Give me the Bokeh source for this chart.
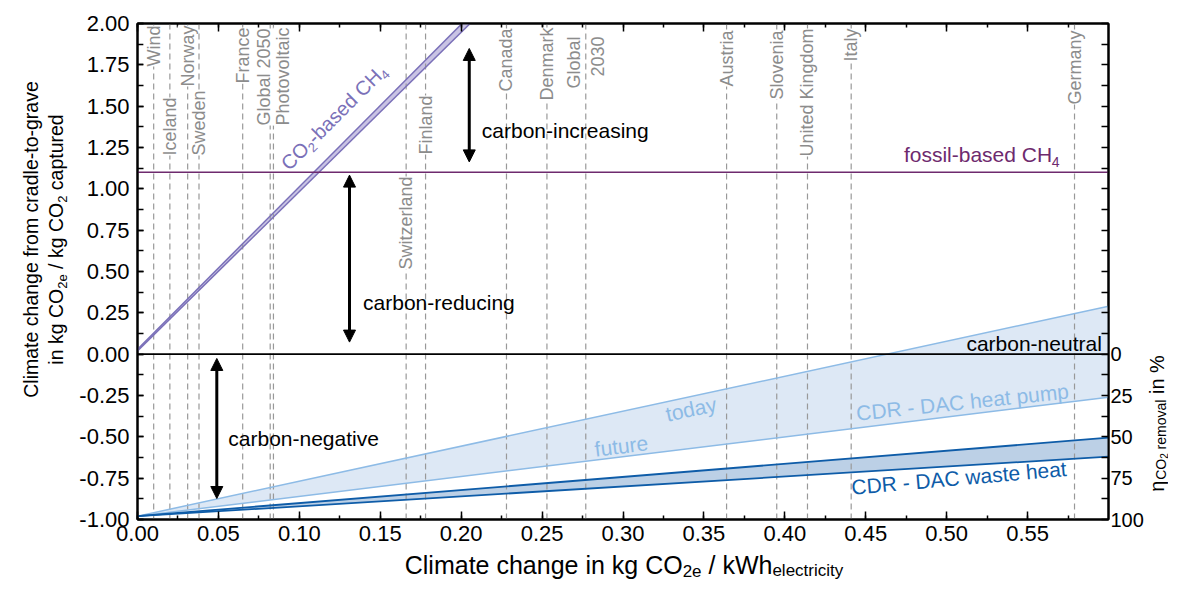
import math
from bokeh.plotting import figure
from bokeh.layouts import row, column
from bokeh.models import (Range1d, LinearAxis, SingleIntervalTicker, FixedTicker,
                          NumeralTickFormatter, CustomJSTickFormatter, Label, Arrow, NormalHead)
from bokeh.embed import file_html
from bokeh.resources import INLINE

# ---------------- data ----------------
x_ends = [0.0, 0.6]
hp_today = [-0.98, 0.29]      # CDR - DAC heat pump, today
hp_future = [-0.98, -0.26]    # CDR - DAC heat pump, future
wh_upper = [-0.98, -0.505]    # CDR - DAC waste heat
wh_lower = [-0.98, -0.62]
co2_x = [0.0, 0.21]
co2_upper = [0.03, 2.093]     # CO2-based CH4
co2_lower = [0.02, 2.043]
fossil_ch4 = 1.10             # fossil-based CH4
zero_line = 0.0

grid_names = ["Wind", "Iceland", "Norway", "Sweden", "France", "Global 2050", "Photovoltaic",
              "Switzerland", "Finland", "Canada", "Denmark", "Global 2030", "Austria",
              "Slovenia", "United Kingdom", "Italy", "Germany"]
grid_x = [0.010, 0.020, 0.031, 0.038, 0.065, 0.082, 0.084, 0.166, 0.178, 0.228, 0.253,
          0.277, 0.364, 0.395, 0.414, 0.441, 0.579]

arrow_x = [0.205, 0.131, 0.049]
arrow_y0 = [1.163, 0.073, -0.873]
arrow_y1 = [1.849, 1.083, -0.026]

x_ticks_interval = 0.05
y_ticks_interval = 0.25
eta_ticks = [0, 25, 50, 75, 100]

# ---------------- geometry / style ----------------
FONT = "Liberation Sans"
LW, PW, RW = 70, 1076, 22          # left title strip, plot, right title strip
PH, BH = 552, 29                   # plot height, bottom title strip
FL, FT, FR, FB = 137, 23, 1110, 519  # frame edges in picture px
BASE_FIX = 0.3465                  # alphabetic baseline is drawn as centre

def X(px):
    return (px - FL) / (FR - FL) * 0.6

def Y(py):
    return 2 - (py - FT) / (FB - FT) * 3.0

def ident(v):
    return v

CW = {' ': 278, '%': 889, '-': 333, '.': 278, '/': 278, 'A': 667, 'C': 722, 'D': 722,
      'H': 722, 'O': 778, 'R': 722, 'W': 944, 'a': 556, 'b': 556, 'c': 500, 'd': 556,
      'e': 556, 'f': 278, 'g': 556, 'h': 556, 'i': 222, 'k': 500, 'l': 222, 'm': 833,
      'n': 556, 'o': 556, 'p': 556, 'r': 333, 's': 500, 't': 278, 'u': 556, 'v': 500,
      'w': 722, 'y': 500, 'η': 600}

def tw(s, size):
    return sum(CW.get(ch, 556) for ch in s) / 1000.0 * size

def seq(fig, pieces, start, angle_deg, color, fx, fy, center=False):
    a = math.radians(angle_deg)
    d = (math.cos(a), -math.sin(a))
    dn = (math.sin(a), math.cos(a))
    total = sum(tw(t, s) for t, s, _ in pieces)
    sx, sy = start
    if center:
        sx -= d[0] * total / 2
        sy -= d[1] * total / 2
    pos = 0.0
    for t, s, sh in pieces:
        lead = len(t) - len(t.lstrip(" "))
        pos += tw(" " * lead, s)
        t = t.lstrip(" ")
        off = sh - BASE_FIX * s
        px = sx + d[0] * pos + dn[0] * off
        py = sy + d[1] * pos + dn[1] * off
        fig.add_layout(Label(x=fx(px), y=fy(py), text=t, angle=a, text_align="left",
                             text_baseline="alphabetic", text_font=FONT,
                             text_font_size=f"{s}px", text_color=color))
        pos += tw(t, s)

def strip(w, h, yr, top=0, bottom=0):
    f = figure(width=w, height=h, x_range=Range1d(0, w), y_range=yr,
               x_axis_type=None, y_axis_type=None, min_border=0,
               min_border_top=top, min_border_bottom=bottom,
               output_backend="svg", toolbar_location=None)
    f.outline_line_color = None
    f.xgrid.visible = False
    f.ygrid.visible = False
    f.background_fill_color = "white"
    f.border_fill_color = "white"
    return f

# ---------------- main plot ----------------
p = figure(width=PW, height=PH, x_range=Range1d(0, 0.6), y_range=Range1d(-1, 2),
           output_backend="svg", toolbar_location=None,
           min_border_left=FL - LW, min_border_right=LW + PW - FR,
           min_border_top=FT, min_border_bottom=PH - FB)
p.xgrid.visible = False
p.ygrid.visible = False
p.outline_line_color = "black"
p.outline_line_width = 2
p.background_fill_color = "white"
p.border_fill_color = "white"

def style_axis(ax, tin, minor_in, fs="22px", standoff=8):
    ax.axis_line_color = "black"
    ax.axis_line_width = 2
    ax.major_tick_in = tin
    ax.major_tick_out = 0
    ax.minor_tick_in = minor_in
    ax.minor_tick_out = 0
    ax.major_tick_line_width = 1.5
    ax.minor_tick_line_width = 1.5
    ax.major_label_text_font = FONT
    ax.major_label_text_font_size = fs
    ax.major_label_text_color = "black"
    ax.major_label_standoff = standoff

xa = p.xaxis[0]
xa.ticker = SingleIntervalTicker(interval=x_ticks_interval, num_minor_ticks=2)
xa.formatter = NumeralTickFormatter(format="0.00")
style_axis(xa, 8, 4, standoff=6)

ya = p.yaxis[0]
ya.ticker = SingleIntervalTicker(interval=y_ticks_interval, num_minor_ticks=2)
ya.formatter = NumeralTickFormatter(format="0.00")
style_axis(ya, 6, 6)

top = LinearAxis(ticker=SingleIntervalTicker(interval=x_ticks_interval, num_minor_ticks=2),
                 formatter=CustomJSTickFormatter(code="return ''"))
style_axis(top, 8, 4, fs="10px", standoff=0)
p.add_layout(top, "above")

p.extra_y_ranges = {"eta": Range1d(start=100, end=-200)}
minor_eta = [v * 12.5 for v in range(-16, 9) if v * 12.5 not in eta_ticks]
ra = LinearAxis(y_range_name="eta", ticker=FixedTicker(ticks=eta_ticks, minor_ticks=minor_eta),
                formatter=NumeralTickFormatter(format="0"))
style_axis(ra, 7, 7, fs="20px", standoff=2)
p.add_layout(ra, "right")

HP_FILL, HP_LINE = "#dde8f5", "#8dbbe6"
WH_FILL, WH_LINE = "#bcd0e6", "#0e5ca8"
CO2_FILL, CO2_LINE = "#c9c3e4", "#7a70b8"
FOSSIL = "#6e2a6e"
GREY = "#8c8c8c"

p.varea(x=x_ends, y1=hp_future, y2=hp_today, fill_color=HP_FILL)
p.varea(x=x_ends, y1=wh_lower, y2=wh_upper, fill_color=WH_FILL)
p.varea(x=co2_x, y1=co2_lower, y2=co2_upper, fill_color=CO2_FILL)

for gx in grid_x:
    p.line([gx, gx], [-1, 2], line_color="#999999", line_width=1.2, line_dash="6 4")

p.line(x_ends, hp_today, line_color=HP_LINE, line_width=1.5)
p.line(x_ends, hp_future, line_color=HP_LINE, line_width=1.5)
p.line(x_ends, wh_upper, line_color=WH_LINE, line_width=1.8)
p.line(x_ends, wh_lower, line_color=WH_LINE, line_width=1.8)
p.line(co2_x, co2_upper, line_color=CO2_LINE, line_width=1.5)
p.line(co2_x, co2_lower, line_color=CO2_LINE, line_width=1.5)
p.line(x_ends, [zero_line, zero_line], line_color="black", line_width=1.8)
p.line(x_ends, [fossil_ch4, fossil_ch4], line_color=FOSSIL, line_width=1.6)

# country labels (white box hides the dashed line behind the text)
label_tops = [25, 97, 25, 90, 27, 28, 27, 176, 95, 28, 27, None, 30, 30, 28, 28, 30]
label_shift = {5: -6, 6: 10}
for i, (name, gx) in enumerate(zip(grid_names, grid_x)):
    if name == "Global 2030":
        parts = [("Global", -11.5), ("2030", 11.5)]
    else:
        parts = [(name, label_shift.get(i, 0))]
    top_px = 36 if name == "Global 2030" else label_tops[i]
    for t, off in parts:
        p.add_layout(Label(x=gx, y=Y(top_px), text=t, angle=math.pi / 2, x_offset=off,
                           text_align="right", text_baseline="middle",
                           text_font=FONT, text_font_size="18px", text_color=GREY,
                           background_fill_color="white", background_fill_alpha=1.0))

# series labels
seq(p, [("CO", 20, 0), ("2", 13, 4), ("-based CH", 20, 0), ("4", 13, 4)], (289, 171), 45,
    CO2_LINE, X, Y)
seq(p, [("fossil-based CH", 21, 0), ("4", 14, 5)], (905, 161.5), 0, FOSSIL, X, Y)
seq(p, [("today", 21, 0)], (668, 421), 12, HP_LINE, X, Y)
seq(p, [("future", 21, 0)], (596, 456), 7, HP_LINE, X, Y)
seq(p, [("CDR - DAC heat pump", 21, 0)], (858, 420), 6, HP_LINE, X, Y)
seq(p, [("CDR - DAC waste heat", 21, 0)], (853, 494), 5, WH_LINE, X, Y)

for t, sx, sy in [("carbon-increasing", 482, 137), ("carbon-reducing", 363, 309),
                  ("carbon-negative", 228, 445)]:
    seq(p, [(t, 21, 0)], (sx, sy), 0, "black", X, Y)
nw = tw("carbon-neutral", 21)
seq(p, [("carbon-neutral", 21, 0)], (1103 - nw, 350), 0, "black", X, Y)

for ax_, a0, a1 in zip(arrow_x, arrow_y0, arrow_y1):
    p.add_layout(Arrow(x_start=ax_, y_start=a0, x_end=ax_, y_end=a1, line_width=3,
                       line_color="black",
                       start=NormalHead(size=12, fill_color="black", line_color="black"),
                       end=NormalHead(size=12, fill_color="black", line_color="black")))

# ---------------- axis title strips ----------------
# side strips share the plot's vertical frame (23..519 px), so Y() maps picture px there
fl = strip(LW, PH, Range1d(-1, 2), top=FT, bottom=PH - FB)
seq(fl, [("Climate change from cradle-to-grave", 19.5, 0)], (37, 239), 90, "black",
    ident, Y, center=True)
seq(fl, [("in kg CO", 19.5, 0), ("2e", 13, 5), (" / kg CO", 19.5, 0), ("2", 13, 5),
         (" captured", 19.5, 0)], (62, 239), 90, "black", ident, Y, center=True)

fr = strip(RW, PH, Range1d(-1, 2), top=FT, bottom=PH - FB)
def frx(px):
    return px - (LW + PW)
seq(fr, [("η", 20, 0), ("CO", 14, 1.5), ("2", 10, 3.5), (" removal", 14, 1.5),
         (" in %", 20, 0)], (1163.5, 423), 90, "black", frx, Y, center=True)

fb = strip(LW + PW + RW, BH, Range1d(0, BH))
def fby(py):
    return PH + BH - py
seq(fb, [("Climate change in kg CO", 25, 0), ("2e", 17, 3), (" / kWh", 25, 0),
         ("electricity", 17, 3)], (623.5, 573), 0, "black", ident, fby, center=True)

layout = column(row(fl, p, fr), fb)
open("out.html", "w").write(file_html(layout, INLINE))
